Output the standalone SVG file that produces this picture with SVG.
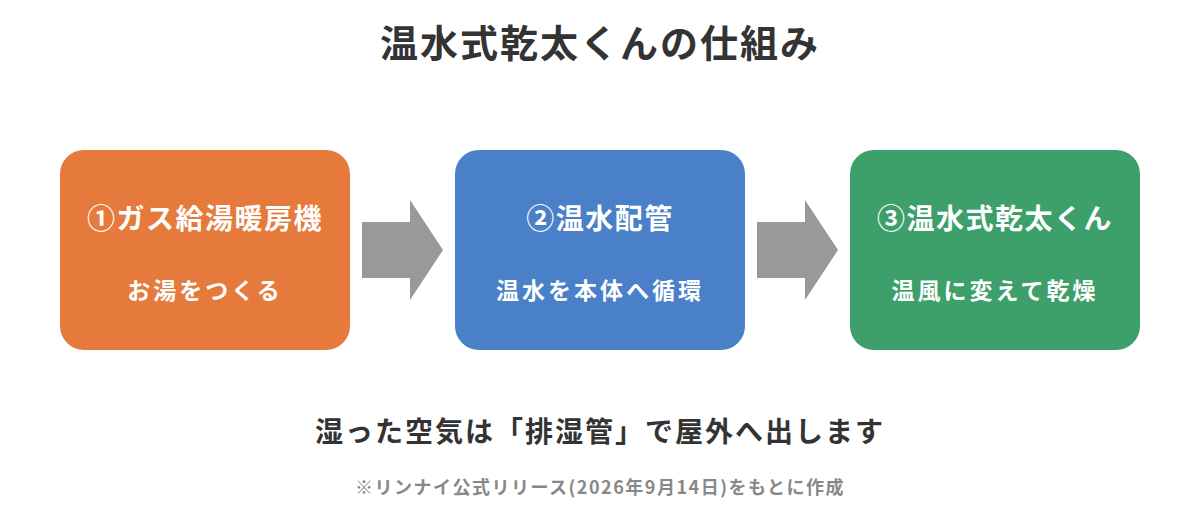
<svg xmlns="http://www.w3.org/2000/svg" width="1200" height="520" viewBox="0 0 1200 520">
<style>
text{font-family:"Noto Sans CJK JP","Noto Sans",sans-serif;font-weight:bold;text-anchor:middle}
.t{font-size:28px;fill:#fff;letter-spacing:1.5px}
.s{font-size:23px;fill:#fff;letter-spacing:3px}
.ar{fill:#999}
</style>
<rect width="1200" height="520" fill="#fff"/>
<text x="600" y="57" font-size="38" fill="#333" letter-spacing="2">温水式乾太くんの仕組み</text>
<g id="n1"><rect x="60" y="150" width="290" height="200" rx="24" fill="#E57A3C"/><text class="t" x="205" y="229">①ガス給湯暖房機</text><text class="s" x="205" y="299">お湯をつくる</text></g>
<g id="n2"><rect x="455" y="150" width="290" height="200" rx="24" fill="#4A80C8"/><text class="t" x="600" y="229">②温水配管</text><text class="s" x="600" y="299">温水を本体へ循環</text></g>
<g id="n3"><rect x="850" y="150" width="290" height="200" rx="24" fill="#3DA06A"/><text class="t" x="995" y="229">③温水式乾太くん</text><text class="s" x="995" y="299">温風に変えて乾燥</text></g>
<g id="connectors">
<polygon class="ar" points="362,222 410,222 410,200 443,250 410,300 410,278 362,278"/>
<polygon class="ar" points="757,222 805,222 805,200 838,250 805,300 805,278 757,278"/>
</g>
<text x="600" y="442" font-size="28" fill="#333" letter-spacing="2">湿った空気は「排湿管」で屋外へ出します</text>
<text x="600" y="494" font-size="18" fill="#888" letter-spacing="1.5">※リンナイ公式リリース(2026年9月14日)をもとに作成</text>
</svg>
